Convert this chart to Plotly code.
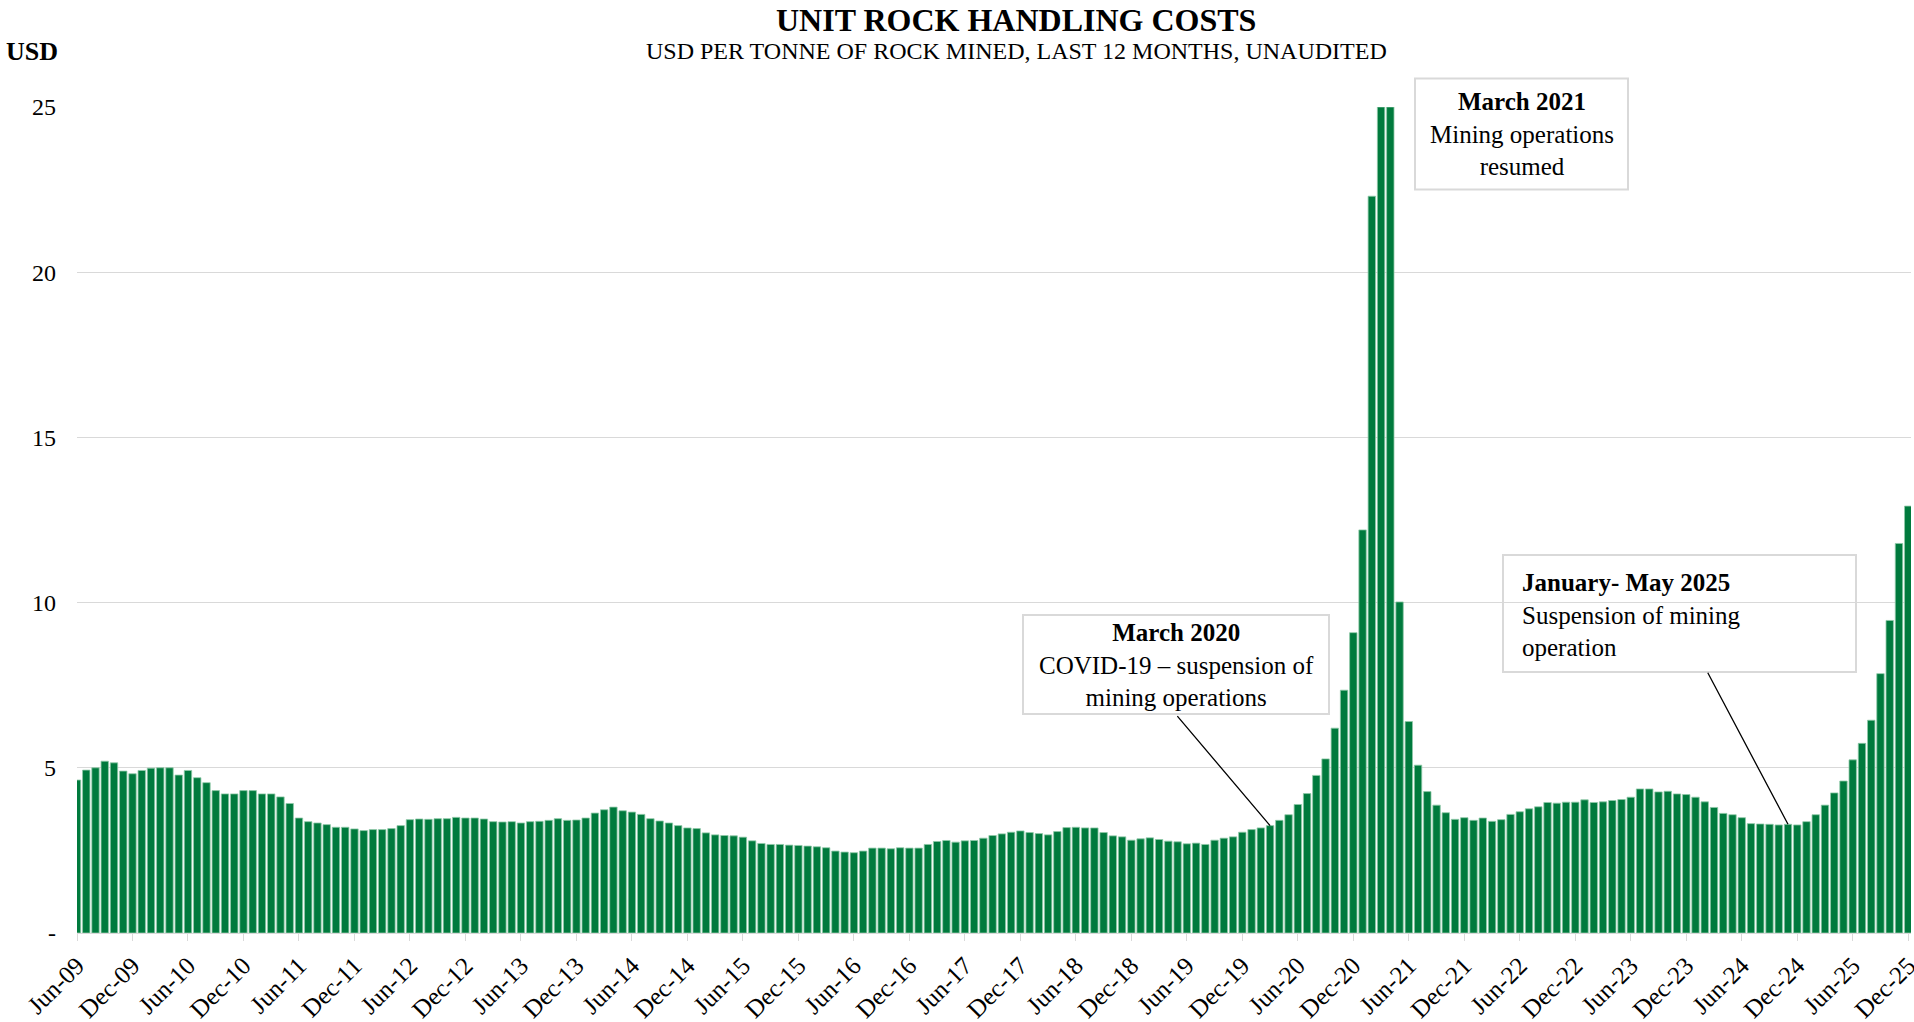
import plotly.graph_objects as go
import pandas as pd

# ---------------- data ----------------
months = pd.date_range("2009-06-01", "2025-12-01", freq="MS").strftime("%b-%y").tolist()

costs = [
    4.63, 4.93, 5.00, 5.20, 5.15, 4.90, 4.82, 4.92, 4.99, 5.00, 5.00, 4.78,   # Jun-09 .. May-10
    4.92, 4.70, 4.55, 4.31, 4.21, 4.21, 4.31, 4.31, 4.21, 4.21, 4.12, 3.92,   # Jun-10 .. May-11
    3.48, 3.37, 3.33, 3.28, 3.20, 3.20, 3.15, 3.10, 3.13, 3.13, 3.16, 3.25,   # Jun-11 .. May-12
    3.43, 3.45, 3.44, 3.46, 3.46, 3.50, 3.48, 3.48, 3.45, 3.37, 3.36, 3.37,   # Jun-12 .. May-13
    3.33, 3.37, 3.38, 3.41, 3.46, 3.41, 3.42, 3.48, 3.63, 3.73, 3.81, 3.70,   # Jun-13 .. May-14
    3.66, 3.59, 3.46, 3.39, 3.33, 3.25, 3.18, 3.16, 3.03, 2.97, 2.95, 2.94,   # Jun-14 .. May-15
    2.90, 2.79, 2.71, 2.68, 2.68, 2.66, 2.65, 2.63, 2.61, 2.58, 2.48, 2.45,   # Jun-15 .. May-16
    2.43, 2.48, 2.57, 2.57, 2.55, 2.58, 2.57, 2.57, 2.68, 2.77, 2.80, 2.75,   # Jun-16 .. May-17
    2.79, 2.80, 2.87, 2.95, 3.00, 3.05, 3.09, 3.04, 3.01, 2.97, 3.07, 3.19,   # Jun-17 .. May-18
    3.20, 3.18, 3.18, 3.04, 2.94, 2.91, 2.81, 2.85, 2.88, 2.83, 2.78, 2.76,   # Jun-18 .. May-19
    2.70, 2.72, 2.68, 2.81, 2.87, 2.91, 3.05, 3.13, 3.18, 3.25, 3.41, 3.58,   # Jun-19 .. May-20
    3.89, 4.22, 4.77, 5.27, 6.20, 7.35, 9.09, 12.20, 22.30, 25.00, 25.00, 10.02,  # Jun-20 .. May-21
    6.40, 5.08, 4.28, 3.87, 3.64, 3.44, 3.49, 3.41, 3.48, 3.38, 3.43, 3.59,   # Jun-21 .. May-22
    3.67, 3.76, 3.82, 3.95, 3.93, 3.96, 3.96, 4.03, 3.95, 3.97, 4.01, 4.04,   # Jun-22 .. May-23
    4.11, 4.36, 4.36, 4.27, 4.29, 4.21, 4.19, 4.11, 3.97, 3.80, 3.62, 3.58,   # Jun-23 .. May-24
    3.49, 3.31, 3.30, 3.29, 3.27, 3.29, 3.27, 3.37, 3.58, 3.87, 4.24, 4.60,   # Jun-24 .. May-25
    5.24, 5.74, 6.44, 7.85, 9.46, 11.79, 12.92,                               # Jun-25 .. Dec-25
]

tick_labels = months[::6]
y_tickvals = [0, 5, 10, 15, 20, 25]
y_ticktext = ["-", "5", "10", "15", "20", "25"]

covid_idx = months.index("Mar-20")
susp_idx = months.index("Nov-24")

# ---------------- layout helpers (pixel -> paper) ----------------
W, H = 1914, 1022
PL, PR, PT, PB = 77, 1911, 106.5, 933.3   # plot area in pixels


def fx(px):
    return (px - PL) / (PR - PL)


def fy(py):
    return (PB - py) / (PB - PT)


FONT = "Liberation Serif"
GREEN = "#007A3D"
GRID = "#d9d9d9"

fig = go.Figure(
    go.Bar(
        x=months,
        y=costs,
        marker=dict(color=GREEN, line=dict(color="#8fc9a8", width=0.8)),
        hoverinfo="x+y",
    )
)

fig.update_layout(
    width=W,
    height=H,
    margin=dict(l=PL, r=W - PR, t=PT, b=H - PB),
    paper_bgcolor="white",
    plot_bgcolor="white",
    bargap=0.2,
    showlegend=False,
    font=dict(family=FONT, color="black"),
)

fig.update_xaxes(
    type="category",
    automargin=False,
    range=[0, len(months) - 1 + 0.3],
    tickmode="array",
    tickvals=tick_labels,
    ticktext=tick_labels,
    tickangle=-45,
    tickfont=dict(size=25, family=FONT, color="black"),
    ticks="outside",
    ticklen=7,
    tickwidth=1.3,
    tickcolor=GRID,
    showline=True,
    linecolor=GRID,
    linewidth=1.3,
    showgrid=False,
)

fig.update_yaxes(
    automargin=False,
    range=[0, 25],
    tickmode="array",
    tickvals=y_tickvals,
    ticktext=y_ticktext,
    tickfont=dict(size=24, family=FONT, color="black"),
    showgrid=True,
    gridcolor=GRID,
    gridwidth=1.3,
    zeroline=False,
    ticks="",
    ticklabelstandoff=20,
)

shapes = [
    # March 2021 box (white fill)
    dict(type="rect", xref="paper", yref="paper", layer="above",
         x0=fx(1415), x1=fx(1628), y0=fy(189), y1=fy(78),
         line=dict(color=GRID, width=2), fillcolor="white"),
    # March 2020 box
    dict(type="rect", xref="paper", yref="paper", layer="above",
         x0=fx(1023), x1=fx(1329), y0=fy(714), y1=fy(615),
         line=dict(color=GRID, width=2), fillcolor="white"),
    # January - May 2025 box (transparent)
    dict(type="rect", xref="paper", yref="paper", layer="above",
         x0=fx(1503), x1=fx(1856), y0=fy(672), y1=fy(555),
         line=dict(color=GRID, width=2), fillcolor="rgba(0,0,0,0)"),
]

annotations = [
    dict(text="<b>UNIT ROCK HANDLING COSTS</b>", xref="paper", yref="paper",
         x=fx(1016), y=fy(19), xanchor="center", yanchor="middle",
         showarrow=False, font=dict(size=32, family=FONT, color="black")),
    dict(text="USD PER TONNE OF ROCK MINED, LAST 12 MONTHS, UNAUDITED", xref="paper", yref="paper",
         x=fx(1017), y=fy(50), xanchor="center", yanchor="middle",
         showarrow=False, font=dict(size=24, family=FONT, color="black")),
    dict(text="<b>USD</b>", xref="paper", yref="paper",
         x=fx(4), y=fy(51), xanchor="left", yanchor="middle",
         showarrow=False, font=dict(size=26, family=FONT, color="black")),
    dict(text="<b>March 2021</b><br>Mining operations<br>resumed", xref="paper", yref="paper",
         x=fx(1521.5), y=fy(134), xanchor="center", yanchor="middle", align="center",
         showarrow=False, font=dict(size=25, family=FONT, color="black")),
    dict(text="<b>March 2020</b><br>COVID-19 – suspension of<br>mining operations", xref="paper", yref="paper",
         x=fx(1176), y=fy(665), xanchor="center", yanchor="middle", align="center",
         showarrow=False, font=dict(size=25, family=FONT, color="black")),
    dict(text="<b>January- May 2025</b><br>Suspension of mining<br>operation", xref="paper", yref="paper",
         x=fx(1520), y=fy(615), xanchor="left", yanchor="middle", align="left",
         showarrow=False, font=dict(size=25, family=FONT, color="black")),
    # leader lines
    dict(text="", x=months[covid_idx], y=costs[covid_idx], xref="x", yref="y",
         showarrow=True, arrowhead=0, arrowwidth=1.3, arrowcolor="black",
         ax=-94, ay=-111, standoff=0, startstandoff=0),
    dict(text="", x=months[susp_idx], y=costs[susp_idx], xref="x", yref="y",
         showarrow=True, arrowhead=0, arrowwidth=1.3, arrowcolor="black",
         ax=-81, ay=-153, standoff=0, startstandoff=0),
]

fig.update_layout(shapes=shapes, annotations=annotations)

fig.write_html(
    "out.html",
    config={"displayModeBar": False},
    post_script="document.body.style.margin='0px'; document.body.style.overflow='hidden';",
)
